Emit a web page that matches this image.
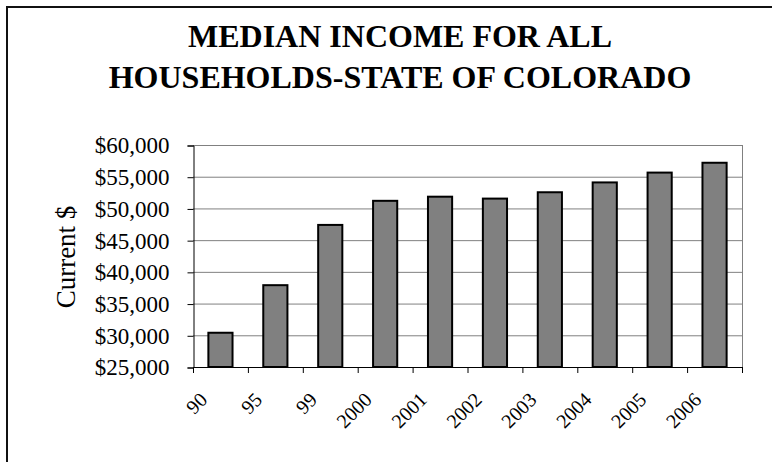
<!DOCTYPE html>
<html>
<head>
<meta charset="utf-8">
<script src="https://cdn.jsdelivr.net/npm/d3@7"></script>
<style>
  body { margin: 0; background: #fff; }
  svg { display: block; font-family: "Liberation Serif", "Times New Roman", serif; }
</style>
</head>
<body>
<main></main>
<script>
const years = ["90", "95", "99", "2000", "2001", "2002", "2003", "2004", "2005", "2006"]
const income = [30400, 37900, 47400, 51200, 51850, 51550, 52550, 54100, 55650, 57200]
const yTicks = [25000, 30000, 35000, 40000, 45000, 50000, 55000, 60000]
const titleLines = ["MEDIAN INCOME FOR ALL", "HOUSEHOLDS-STATE OF COLORADO"]

const w = 772
const h = 462

const plot = { left: 193, right: 742, top: 145, bottom: 367 }

const svg = d3
  .select("main")
  .append("svg")
  .attr("width", w)
  .attr("height", h)

// outer frame (only left and top edges fall inside the picture)
svg
  .append("rect")
  .attr("x", 7)
  .attr("y", 7)
  .attr("width", 820)
  .attr("height", 520)
  .attr("fill", "none")
  .attr("stroke", "#111")
  .attr("stroke-width", 2)

// title
svg
  .append("g")
  .selectAll("text")
  .data(titleLines)
  .enter()
  .append("text")
  .attr("x", 400)
  .attr("y", (d, i) => 47 + i * 41)
  .attr("text-anchor", "middle")
  .attr("font-family", "'Liberation Serif', 'Times New Roman', serif")
  .attr("font-weight", "bold")
  .attr("font-size", 32)
  .text((d) => d)

const xScale = d3
  .scaleBand()
  .domain(years)
  .range([plot.left, plot.right])
  .paddingInner(0.56)
  .paddingOuter(0.28)

const yScale = d3
  .scaleLinear()
  .domain([25000, 60000])
  .range([plot.bottom, plot.top])

// gridlines
svg
  .append("g")
  .selectAll("line")
  .data(yTicks.filter((d) => d > 25000))
  .enter()
  .append("line")
  .attr("x1", plot.left)
  .attr("x2", plot.right)
  .attr("y1", (d) => yScale(d) + 0.5)
  .attr("y2", (d) => yScale(d) + 0.5)
  .attr("stroke", "#808080")
  .attr("stroke-width", 1)

// right edge of plot area
svg
  .append("line")
  .attr("x1", plot.right + 0.5)
  .attr("x2", plot.right + 0.5)
  .attr("y1", plot.top)
  .attr("y2", plot.bottom)
  .attr("stroke", "#808080")

// bars
svg
  .append("g")
  .selectAll("rect")
  .data(income)
  .enter()
  .append("rect")
  .attr("x", (d, i) => xScale(years[i]))
  .attr("y", (d) => yScale(d))
  .attr("width", xScale.bandwidth())
  .attr("height", (d) => yScale(25000) - yScale(d))
  .attr("fill", "#808080")
  .attr("stroke", "#000")
  .attr("stroke-width", 2)

// y axis
const yAxis = d3
  .axisLeft(yScale)
  .tickValues(yTicks)
  .tickSize(6)
  .tickPadding(18)
  .tickFormat(d3.format("$,"))

svg
  .append("g")
  .attr("transform", `translate(${plot.left + 0.5}, 0.5)`)
  .call(yAxis)
  .call((g) => g.select(".domain").attr("stroke", "#000"))
  .call((g) =>
    g
      .selectAll("text")
      .attr("font-family", "Liberation Serif")
      .attr("font-size", 23)
      .attr("fill", "#000")
  )

// x axis: line with ticks between the bars
const step = xScale.step()
const xAxisG = svg.append("g")
xAxisG
  .append("line")
  .attr("x1", plot.left)
  .attr("x2", plot.right + 1)
  .attr("y1", plot.bottom + 0.5)
  .attr("y2", plot.bottom + 0.5)
  .attr("stroke", "#000")

xAxisG
  .selectAll(".tick")
  .data(d3.range(years.length + 1))
  .enter()
  .append("line")
  .attr("class", "tick")
  .attr("x1", (i) => plot.left + i * step + 0.5)
  .attr("x2", (i) => plot.left + i * step + 0.5)
  .attr("y1", plot.bottom)
  .attr("y2", plot.bottom + 6)
  .attr("stroke", "#000")

xAxisG
  .selectAll(".label")
  .data(years)
  .enter()
  .append("text")
  .attr("class", "label")
  .attr("text-anchor", "end")
  .attr("font-size", 20)
  .attr(
    "transform",
    (d) =>
      `translate(${xScale(d) + xScale.bandwidth() / 2 - 12}, ${plot.bottom + 34}) rotate(-45)`
  )
  .text((d) => d)

// y axis title
svg
  .append("text")
  .attr("transform", `translate(75, 257) rotate(-90)`)
  .attr("text-anchor", "middle")
  .attr("font-size", 27)
  .text("Current $")
</script>
</body>
</html>
